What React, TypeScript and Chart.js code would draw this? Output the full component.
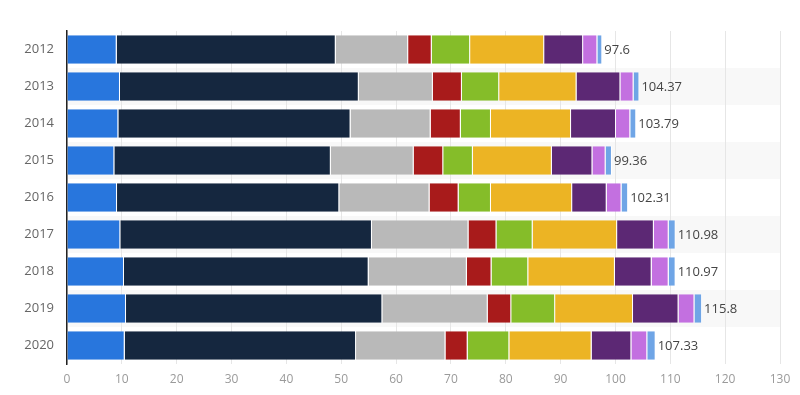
import React, { useEffect, useRef } from "react";
import { Chart, registerables } from "chart.js";

Chart.register(...registerables);

const years = ["2012", "2013", "2014", "2015", "2016", "2017", "2018", "2019", "2020"];
const totals = [97.6, 104.37, 103.79, 99.36, 102.31, 110.98, 110.97, 115.8, 107.33];

const seriesA = [9.06, 9.66, 9.36, 8.63, 9.12, 9.72, 10.39, 10.76, 10.52];
const seriesB = [39.94, 43.54, 42.34, 39.47, 40.53, 45.88, 44.61, 46.74, 42.18];
const seriesC = [13.2, 13.5, 14.6, 15.1, 16.45, 17.6, 17.9, 19.2, 16.3];
const seriesD = [4.3, 5.3, 5.5, 5.4, 5.3, 5.1, 4.5, 4.3, 4.05];
const seriesE = [7.0, 6.8, 5.5, 5.4, 5.9, 6.6, 6.7, 8.0, 7.6];
const seriesF = [13.5, 14.1, 14.6, 14.4, 14.8, 15.4, 15.8, 14.2, 15.0];
const seriesG = [7.1, 8.0, 8.2, 7.4, 6.3, 6.7, 6.7, 8.3, 7.25];
const seriesH = [2.6, 2.4, 2.6, 2.4, 2.7, 2.7, 3.1, 2.9, 2.9];
const seriesI = [0.9, 1.07, 1.09, 1.16, 1.21, 1.28, 1.27, 1.4, 1.53];

const seriesList = [seriesA, seriesB, seriesC, seriesD, seriesE, seriesF, seriesG, seriesH, seriesI];
const seriesColors = [
  "#2876dd",
  "#15273f",
  "#b9b9b9",
  "#a81b1b",
  "#85bd29",
  "#ecb424",
  "#5c2874",
  "#c370e0",
  "#6fa5e6",
];

const xTicks = [0, 10, 20, 30, 40, 50, 60, 70, 80, 90, 100, 110, 120, 130];

const FONT = "'Open Sans', 'DejaVu Sans', sans-serif";

const stripePlugin = {
  id: "stripes",
  beforeDraw(chart: any) {
    const { ctx, chartArea } = chart;
    const y = chart.scales.y;
    const n = years.length;
    const step = (chartArea.bottom - chartArea.top) / n;
    ctx.save();
    ctx.fillStyle = "#f8f8f8";
    for (let i = 0; i < n; i++) {
      if (i % 2 === 1) {
        const cy = y.getPixelForValue(i);
        ctx.fillRect(chartArea.left, cy - step / 2, chartArea.right - chartArea.left, step);
      }
    }
    ctx.restore();
  },
};

const totalsPlugin = {
  id: "totals",
  afterDatasetsDraw(chart: any) {
    const { ctx } = chart;
    const last = chart.getDatasetMeta(chart.data.datasets.length - 1);
    ctx.save();
    ctx.font = `13px ${FONT}`;
    ctx.fillStyle = "#444444";
    ctx.textAlign = "left";
    ctx.textBaseline = "middle";
    last.data.forEach((bar: any, i: number) => {
      ctx.fillText(String(totals[i]), bar.x + 2, bar.y + 1);
    });
    ctx.restore();
  },
};

export default function App() {
  const ref = useRef<HTMLCanvasElement | null>(null);

  useEffect(() => {
    if (!ref.current) return;
    const chart = new Chart(ref.current, {
      type: "bar",
      data: {
        labels: years,
        datasets: seriesList.map((s, i) => ({
          label: `Series ${i + 1}`,
          data: s,
          backgroundColor: seriesColors[i],
          borderColor: "#ffffff",
          borderWidth: { top: 0, right: 1, bottom: 0, left: 0 },
          borderSkipped: false,
          categoryPercentage: 1,
          barPercentage: 0.77,
        })),
      },
      options: {
        indexAxis: "y",
        animation: false,
        responsive: true,
        maintainAspectRatio: false,
        layout: { padding: { top: 31, right: 20, bottom: 0, left: 0 } },
        plugins: {
          legend: { display: false },
          tooltip: { enabled: false },
          title: { display: false },
        },
        scales: {
          x: {
            stacked: true,
            min: 0,
            max: 130,
            afterBuildTicks(scale: any) {
              scale.ticks = xTicks.map((v) => ({ value: v }));
            },
            afterFit(scale: any) {
              scale.height = 31;
            },
            ticks: {
              color: "#9a9a9a",
              font: { family: FONT, size: 12 },
              padding: 8,
              maxRotation: 0,
              autoSkip: false,
            },
            grid: { color: "#e6e6e6", lineWidth: 1, drawTicks: false },
            border: { display: false },
          },
          y: {
            stacked: true,
            afterFit(scale: any) {
              scale.width = 67;
            },
            ticks: {
              color: "#666666",
              font: { family: FONT, size: 13 },
              padding: 13,
            },
            grid: { display: false, drawTicks: false },
            border: { display: true, color: "#222222", width: 1.5 },
          },
        },
      },
      plugins: [stripePlugin, totalsPlugin],
    } as any);
    return () => chart.destroy();
  }, []);

  return (
    <div style={{ position: "fixed", left: 0, top: 0, width: 800, height: 395, background: "#ffffff" }}>
      <canvas ref={ref} />
    </div>
  );
}
